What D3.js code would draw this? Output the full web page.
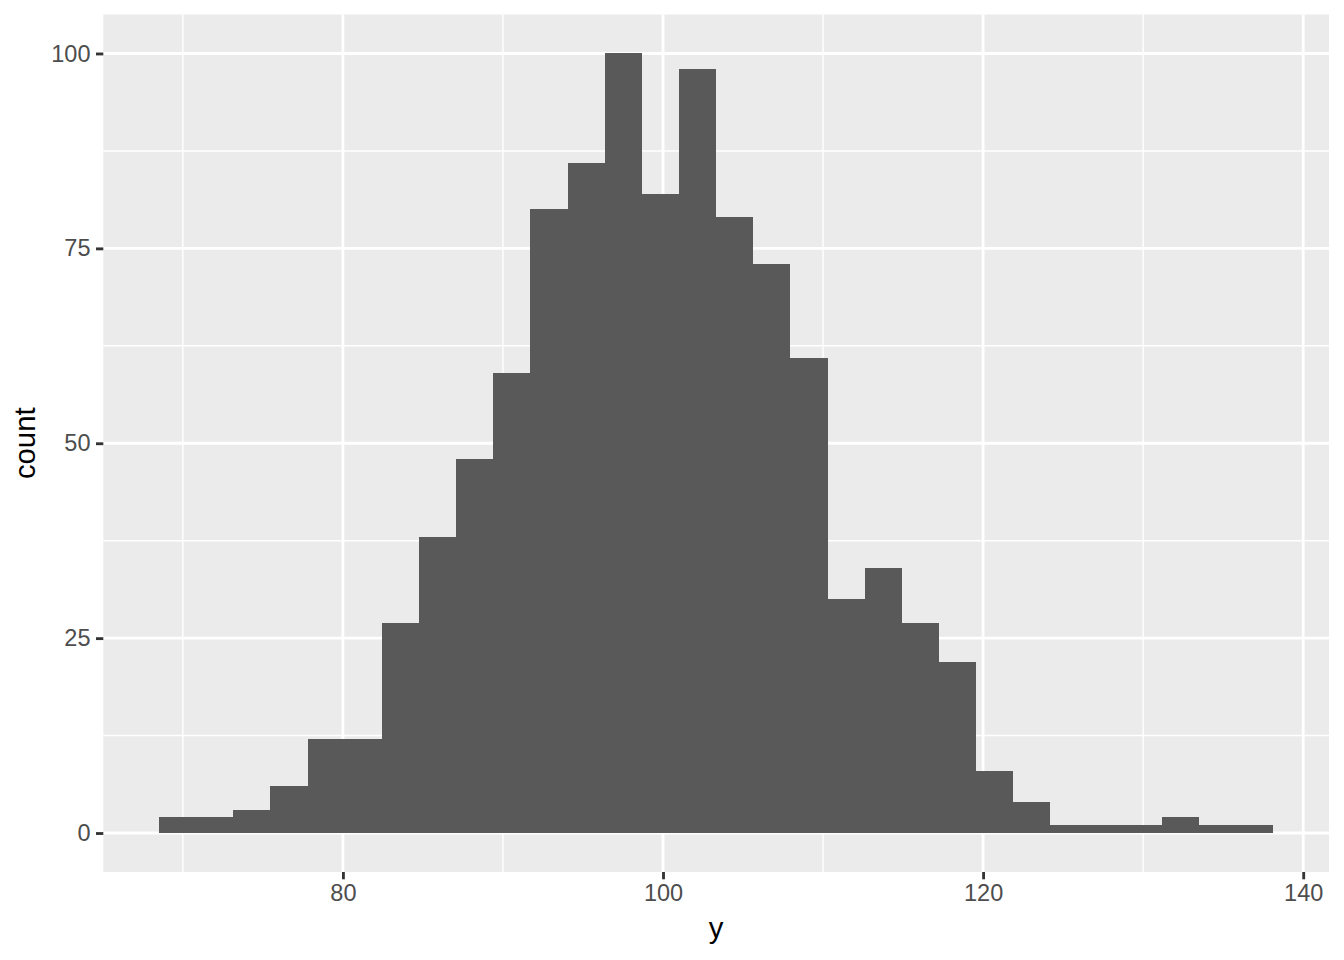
<!DOCTYPE html>
<html>
<head>
<meta charset="utf-8">
<script src="https://cdn.jsdelivr.net/npm/d3@7"></script>
<style>
  html, body { margin: 0; padding: 0; background: #ffffff; }
  svg { display: block; }
</style>
</head>
<body>
<svg id="chart" width="1344" height="960"></svg>
<script>
// ---- Data (30 bins) ----
const binStart = 68.51;      // left edge of first bin (y units)
const binWidth = 2.3207;     // width of each bin
const counts = [2, 2, 3, 6, 12, 12, 27, 38, 48, 59,
                80, 86, 100, 82, 98, 79, 73, 61, 30, 34,
                27, 22, 8, 4, 1, 1, 1, 2, 1, 1];
const xTicks = [80, 100, 120, 140];
const xMinorTicks = [70, 90, 110, 130];
const yTicks = [0, 25, 50, 75, 100];
const yMinorTicks = [12.5, 37.5, 62.5, 87.5];
const xTitle = "y";
const yTitle = "count";

// ---- Layout ----
const panel = { left: 103.3, right: 1329, top: 14.5, bottom: 872 };
const bins = counts.map((c, i) => ({
  x0: binStart + i * binWidth,
  x1: binStart + (i + 1) * binWidth,
  count: c
}));
const xLo = bins[0].x0, xHi = bins[bins.length - 1].x1;
const xPad = (xHi - xLo) * 0.05;
const yMax = d3.max(counts);

const x = d3.scaleLinear().domain([xLo - xPad, xHi + xPad]).range([panel.left, panel.right]);
const y = d3.scaleLinear().domain([-yMax * 0.05, yMax * 1.05]).range([panel.bottom, panel.top]);

const svg = d3.select("#chart");
const font = "'Liberation Sans', Arial, Helvetica, sans-serif";

// panel background
svg.append("rect")
  .attr("x", panel.left).attr("y", panel.top)
  .attr("width", panel.right - panel.left).attr("height", panel.bottom - panel.top)
  .attr("fill", "#EBEBEB");

const grid = svg.append("g");
// minor grid
grid.selectAll("line.xminor").data(xMinorTicks).join("line")
  .attr("x1", d => x(d)).attr("x2", d => x(d))
  .attr("y1", panel.top).attr("y2", panel.bottom)
  .attr("stroke", "#ffffff").attr("stroke-width", 1.42);
grid.selectAll("line.yminor").data(yMinorTicks).join("line")
  .attr("y1", d => y(d)).attr("y2", d => y(d))
  .attr("x1", panel.left).attr("x2", panel.right)
  .attr("stroke", "#ffffff").attr("stroke-width", 1.42);
// major grid
grid.selectAll("line.xmajor").data(xTicks).join("line")
  .attr("x1", d => x(d)).attr("x2", d => x(d))
  .attr("y1", panel.top).attr("y2", panel.bottom)
  .attr("stroke", "#ffffff").attr("stroke-width", 2.85);
grid.selectAll("line.ymajor").data(yTicks).join("line")
  .attr("y1", d => y(d)).attr("y2", d => y(d))
  .attr("x1", panel.left).attr("x2", panel.right)
  .attr("stroke", "#ffffff").attr("stroke-width", 2.85);

// bars
svg.append("g").selectAll("rect").data(bins).join("rect")
  .attr("x", d => x(d.x0))
  .attr("width", d => x(d.x1) - x(d.x0))
  .attr("y", d => y(d.count))
  .attr("height", d => y(0) - y(d.count))
  .attr("fill", "#595959")
  .attr("shape-rendering", "crispEdges");

// x axis
const xAxis = d3.axisBottom(x).tickValues(xTicks).tickSize(7.3).tickPadding(5.5).tickFormat(d3.format("d"));
const gx = svg.append("g").attr("transform", `translate(0,${panel.bottom})`).call(xAxis);
gx.select(".domain").remove();
gx.selectAll(".tick line").attr("stroke", "#333333").attr("stroke-width", 2.85);
gx.selectAll(".tick text").attr("fill", "#4D4D4D").attr("font-family", font).attr("font-size", 23.5);

// y axis
const yAxis = d3.axisLeft(y).tickValues(yTicks).tickSize(7.3).tickPadding(5.5).tickFormat(d3.format("d"));
const gy = svg.append("g").attr("transform", `translate(${panel.left},0)`).call(yAxis);
gy.select(".domain").remove();
gy.selectAll(".tick line").attr("stroke", "#333333").attr("stroke-width", 2.85);
gy.selectAll(".tick text").attr("fill", "#4D4D4D").attr("font-family", font).attr("font-size", 23.5);

// axis titles
svg.append("text")
  .attr("x", (panel.left + panel.right) / 2).attr("y", 938)
  .attr("text-anchor", "middle")
  .attr("font-family", font).attr("font-size", 29.3).attr("fill", "#000000")
  .text(xTitle);
svg.append("text")
  .attr("transform", `translate(35,${(panel.top + panel.bottom) / 2}) rotate(-90)`)
  .attr("text-anchor", "middle")
  .attr("font-family", font).attr("font-size", 29.3).attr("fill", "#000000")
  .text(yTitle);
</script>
</body>
</html>
